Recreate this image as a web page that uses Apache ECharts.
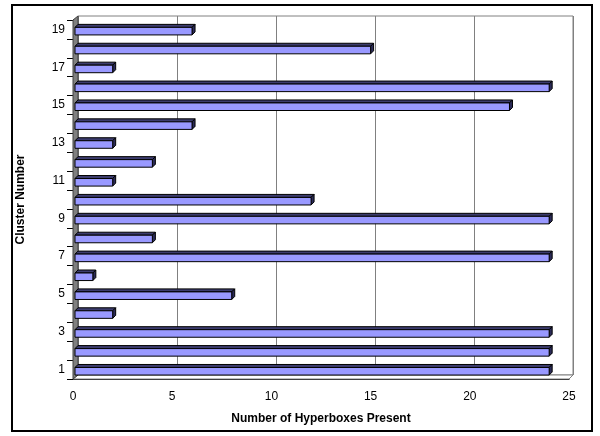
<!DOCTYPE html>
<html>
<head>
<meta charset="utf-8">
<script src="https://cdn.jsdelivr.net/npm/echarts@6/dist/echarts.min.js"></script>
<style>
  html, body { margin: 0; padding: 0; background: #fff; }
  #chart { width: 600px; height: 436px; }
</style>
</head>
<body>
<div id="chart"></div>
<script>
// cluster numbers (bottom to top) and how many hyperboxes each one has
const clusters = ['1', '2', '3', '4', '5', '6', '7', '8', '9', '10',
  '11', '12', '13', '14', '15', '16', '17', '18', '19']
const hyperboxes = [24, 24, 24, 2, 8, 1, 24, 4, 24, 12,
  2, 4, 2, 6, 22, 24, 2, 15, 6]
const xTicks = [0, 5, 10, 15, 20, 25]

const FONT = '"Liberation Sans", Arial, sans-serif'
const DEPTH = 3

const chart = echarts.init(document.getElementById('chart'))

// flat bar with a dark top face and a dark end cap, like the old 3D bars
function renderBar(params, api) {
  const val = api.value(0)
  const idx = api.value(1)
  const start = api.coord([0, idx])
  const end = api.coord([val, idx])
  const band = api.size([0, 1])[1]
  const x0 = start[0] + 2
  const x1 = end[0]
  const c = start[1]
  const top = c - band * 0.11
  const bottom = c + band * 0.29
  return {
    type: 'group',
    children: [
      {
        type: 'polygon',
        shape: { points: [[x0, top], [x0 + DEPTH, top - DEPTH], [x1 + DEPTH, top - DEPTH], [x1, top]] },
        style: { fill: '#3c3c6e', stroke: '#000', lineWidth: 1 }
      },
      {
        type: 'polygon',
        shape: { points: [[x1, top], [x1 + DEPTH, top - DEPTH], [x1 + DEPTH, bottom - DEPTH], [x1, bottom]] },
        style: { fill: '#2b2b58', stroke: '#000', lineWidth: 1 }
      },
      {
        type: 'rect',
        shape: { x: x0, y: top, width: x1 - x0, height: bottom - top },
        style: { fill: '#9999ff', stroke: '#000', lineWidth: 1 }
      }
    ]
  }
}

chart.setOption({
  backgroundColor: '#fff',
  animation: false,
  grid: [
    { left: 73, right: 31, top: 20, bottom: 57 },
    { left: 78, right: 27, top: 16, bottom: 61, show: true, borderColor: '#808080', borderWidth: 1 }
  ],
  xAxis: [
    {
      gridIndex: 0,
      type: 'value',
      min: xTicks[0],
      max: xTicks[xTicks.length - 1],
      interval: 5,
      name: 'Number of Hyperboxes Present',
      nameLocation: 'middle',
      nameGap: 34,
      nameTextStyle: { fontFamily: FONT, fontSize: 12, fontWeight: 'bold', color: '#000' },
      axisLine: { show: true, lineStyle: { color: '#000', width: 1 } },
      axisTick: { show: true, inside: true, length: 4, lineStyle: { color: '#000' } },
      axisLabel: { fontFamily: FONT, fontSize: 12, color: '#000', margin: 12 },
      splitLine: { show: false }
    },
    {
      gridIndex: 1,
      type: 'value',
      min: xTicks[0],
      max: xTicks[xTicks.length - 1],
      interval: 5,
      axisLine: { show: false },
      axisTick: { show: false },
      axisLabel: { show: false },
      splitLine: { show: true, lineStyle: { color: '#808080', width: 1 } }
    }
  ],
  yAxis: [
    {
      gridIndex: 0,
      type: 'category',
      data: clusters,
      name: 'Cluster Number',
      nameLocation: 'middle',
      nameGap: 46,
      nameRotate: 90,
      nameTextStyle: { fontFamily: FONT, fontSize: 12, fontWeight: 'bold', color: '#000' },
      axisLine: { show: true, lineStyle: { color: '#000', width: 1 } },
      axisTick: { show: true, interval: 0, length: 6, lineStyle: { color: '#000' } },
      axisLabel: { interval: 1, fontFamily: FONT, fontSize: 12, color: '#000', margin: 8 },
      splitLine: { show: false }
    },
    {
      gridIndex: 1,
      type: 'category',
      data: clusters,
      show: false
    }
  ],
  series: [{
    type: 'custom',
    xAxisIndex: 0,
    yAxisIndex: 0,
    renderItem: renderBar,
    encode: { x: 0, y: 1 },
    data: hyperboxes.map((v, i) => [v, i]),
    z: 5
  }]
})

// side wall, floor and the frame round the whole picture
const fx0 = chart.convertToPixel({ xAxisIndex: 0 }, 0)
const fx1 = chart.convertToPixel({ xAxisIndex: 0 }, 25)
const bx0 = chart.convertToPixel({ xAxisIndex: 1 }, 0)
const bx1 = chart.convertToPixel({ xAxisIndex: 1 }, 25)
const fc0 = chart.convertToPixel({ yAxisIndex: 0 }, clusters[0])
const fc1 = chart.convertToPixel({ yAxisIndex: 0 }, clusters[1])
const fcN = chart.convertToPixel({ yAxisIndex: 0 }, clusters[clusters.length - 1])
const bc0 = chart.convertToPixel({ yAxisIndex: 1 }, clusters[0])
const bcN = chart.convertToPixel({ yAxisIndex: 1 }, clusters[clusters.length - 1])
const band = fc0 - fc1
const fTop = fcN - band / 2
const fBot = fc0 + band / 2
const bTop = bcN - band / 2
const bBot = bc0 + band / 2

chart.setOption({
  graphic: [
    {
      type: 'polygon',
      z: 3,
      shape: { points: [[fx0, fBot], [bx0, bBot], [bx1, bBot], [fx1, fBot]] },
      style: { fill: '#fff', stroke: '#808080', lineWidth: 1 }
    },
    {
      type: 'polygon',
      z: 4,
      shape: { points: [[fx0, fTop], [bx0, bTop], [bx0, bBot], [fx0, fBot]] },
      style: { fill: '#808080', stroke: '#404040', lineWidth: 1 }
    },
    {
      type: 'rect',
      z: 10,
      shape: { x: 12, y: 5, width: 580, height: 426 },
      style: { fill: null, stroke: '#000', lineWidth: 2 }
    }
  ]
})
</script>
</body>
</html>
